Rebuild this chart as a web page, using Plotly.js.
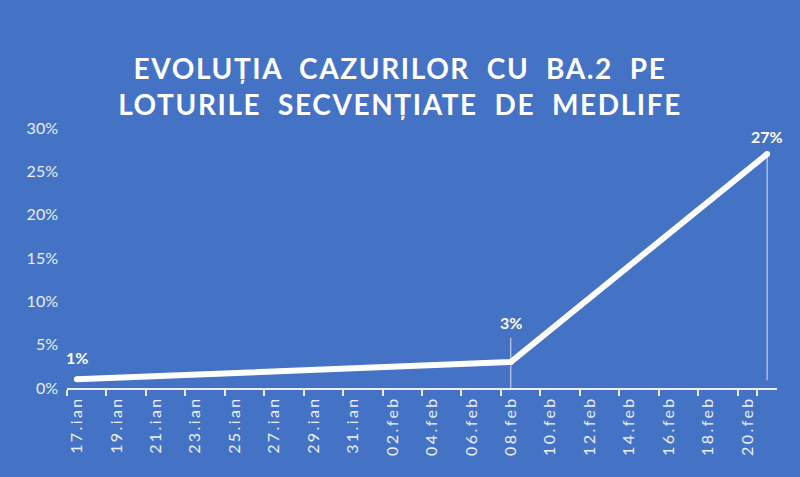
<!DOCTYPE html>
<html>
<head>
<meta charset="utf-8">
<script src="https://cdn.plot.ly/plotly-3.0.1.min.js"></script>
<style>
  html, body { margin: 0; padding: 0; background: #4472C4; }
  #chart { width: 800px; height: 477px; }
  .gtitle { letter-spacing: 1.6px; }
  .xtick text { letter-spacing: 2.4px; }
</style>
</head>
<body>
<div id="chart"></div>
<script>
// every day on the axis, labels shown every other day
var days = [
  "17.ian", "18.ian", "19.ian", "20.ian", "21.ian", "22.ian", "23.ian", "24.ian",
  "25.ian", "26.ian", "27.ian", "28.ian", "29.ian", "30.ian", "31.ian",
  "01.feb", "02.feb", "03.feb", "04.feb", "05.feb", "06.feb", "07.feb", "08.feb",
  "09.feb", "10.feb", "11.feb", "12.feb", "13.feb", "14.feb", "15.feb", "16.feb",
  "17.feb", "18.feb", "19.feb", "20.feb", "21.feb"
];
var sampleDays = ["17.ian", "08.feb", "21.feb"];
var ba2Share = [1, 3, 27];

var labelShift = [22, 40, 18];
var bg = "#4472C4";
var light = "#EAEFF8";

var dropUp = [0, 2.8, 0];
var dropDown = ba2Share.map(function (v, i) { return i === 0 ? 0 : (i === 2 ? v - 0.9 : v); });

var trace = {
  x: sampleDays,
  y: ba2Share,
  type: "scatter",
  mode: "lines+markers",
  line: { color: "#FFFFFF", width: 6 },
  marker: { color: "#FFFFFF", size: 6 },
  error_y: {
    type: "data",
    symmetric: false,
    array: dropUp,
    arrayminus: dropDown,
    color: "rgba(235,240,250,0.75)",
    thickness: 1.2,
    width: 0
  },
  hoverinfo: "skip"
};

var annotations = sampleDays.map(function (d, i) {
  return {
    x: d, y: ba2Share[i], xref: "x", yref: "y",
    text: ba2Share[i] + "%",
    showarrow: false,
    yshift: labelShift[i],
    font: { family: "Lato, 'Open Sans', sans-serif", size: 16, color: "#FFFFFF", weight: "bold" }
  };
});

var layout = {
  width: 800,
  height: 477,
  paper_bgcolor: bg,
  plot_bgcolor: bg,
  margin: { l: 67, r: 23, t: 128, b: 89 },
  showlegend: false,
  title: {
    text: "<b>EVOLUȚIA  CAZURILOR  CU  BA.2  PE<br>LOTURILE  SECVENȚIATE  DE  MEDLIFE</b>",
    font: { family: "Lato, 'Open Sans', sans-serif", size: 28, color: "#FFFFFF" },
    x: 0.5,
    xanchor: "center",
    y: 1 - 79 / 477,
    yanchor: "middle",
    yref: "container"
  },
  xaxis: {
    type: "category",
    categoryorder: "array",
    categoryarray: days,
    range: [-0.5, days.length - 0.5],
    tickmode: "array",
    tickvals: days.filter(function (d, i) { return i % 2 === 0; }),
    tickson: "boundaries",
    ticks: "outside",
    ticklen: 6,
    tickwidth: 2,
    tickcolor: light,
    tickangle: -90,
    tickfont: { family: "Lato, 'Open Sans', sans-serif", size: 16, color: light },
    showline: true,
    linecolor: light,
    linewidth: 2,
    showgrid: false,
    zeroline: false,
    fixedrange: true
  },
  yaxis: {
    range: [0, 30],
    dtick: 5,
    ticksuffix: "%",
    showgrid: false,
    zeroline: false,
    showline: false,
    ticks: "",
    ticklabelstandoff: 8,
    tickfont: { family: "Lato, 'Open Sans', sans-serif", size: 16, color: light },
    fixedrange: true
  },
  annotations: annotations
};

Plotly.newPlot("chart", [trace], layout, { displayModeBar: false, staticPlot: true });
</script>
</body>
</html>
